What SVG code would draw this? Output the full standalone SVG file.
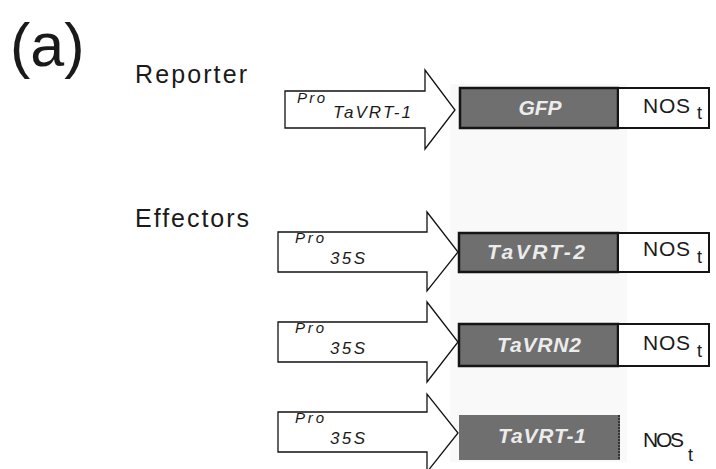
<svg xmlns="http://www.w3.org/2000/svg" width="716" height="469" viewBox="0 0 716 469">
<style>
  text { font-family: "Liberation Sans", Arial, sans-serif; fill: #1a1a1a; }
  .arrow { fill: #ffffff; stroke: #111111; stroke-width: 1.3; stroke-linejoin: miter; }
  .gene { fill: #6f6f6f; stroke: #151515; stroke-width: 2.5; }
  .gene-nb { fill: #6f6f6f; }
  .term { fill: #ffffff; stroke: #151515; stroke-width: 2; }
  .pro { font-size: 15px; font-style: italic; }
  .sub { font-size: 17px; font-style: italic; }
  .glabel { font-size: 21px; font-weight: bold; font-style: italic; fill: #ececec; text-anchor: middle; }
  .nos { font-size: 21px; }
  .t { font-size: 18px; }
  .head { font-size: 25px; }
</style>
<rect x="450" y="84" width="177" height="378" fill="#f9f9f9"/>
<text x="10" y="66" style="font-size:61px">(a)</text>
<text class="head" x="135" y="83" textLength="112" lengthAdjust="spacing">Reporter</text>
<text class="head" x="135" y="227" textLength="114" lengthAdjust="spacing">Effectors</text>

<g id="reporter">
  <polygon class="arrow" points="285,91 425,91 425,70 455,110 425,149 425,128 285,128"/>
  <text class="pro" x="297" y="103" textLength="28" lengthAdjust="spacing">Pro</text>
  <text class="sub" x="333" y="118" textLength="78" lengthAdjust="spacing">TaVRT-1</text>
  <rect class="gene" x="460" y="88" width="158" height="40"/>
  <text class="glabel" x="540" y="115">GFP</text>
  <rect class="term" x="618" y="88" width="91" height="40"/>
  <text class="nos" x="643" y="113" textLength="47" lengthAdjust="spacing">NOS</text>
  <text class="t" x="697" y="119">t</text>
</g>

<g id="effector1">
  <polygon class="arrow" points="278,232 427,232 427,212 458,252 427,291 427,272 278,272"/>
  <text class="pro" x="295" y="243" textLength="29" lengthAdjust="spacing">Pro</text>
  <text class="sub" x="330" y="264" textLength="35" lengthAdjust="spacing">35S</text>
  <rect class="gene" x="459" y="233" width="159" height="39"/>
  <text class="glabel" x="536" y="259" textLength="98" lengthAdjust="spacing">TaVRT-2</text>
  <rect class="term" x="618" y="233" width="91" height="39"/>
  <text class="nos" x="643" y="256" textLength="47" lengthAdjust="spacing">NOS</text>
  <text class="t" x="697" y="263">t</text>
</g>

<g id="effector2">
  <polygon class="arrow" points="278,322 427,322 427,302 458,342 427,382 427,362 278,362"/>
  <text class="pro" x="295" y="333" textLength="29" lengthAdjust="spacing">Pro</text>
  <text class="sub" x="330" y="354" textLength="35" lengthAdjust="spacing">35S</text>
  <rect class="gene" x="459" y="324" width="159" height="42"/>
  <text class="glabel" x="539" y="352" textLength="84" lengthAdjust="spacing">TaVRN2</text>
  <rect class="term" x="618" y="324" width="91" height="42"/>
  <text class="nos" x="643" y="350" textLength="47" lengthAdjust="spacing">NOS</text>
  <text class="t" x="697" y="357">t</text>
</g>

<g id="effector3">
  <polygon class="arrow" points="278,412 427,412 427,394 458,433 427,472 427,452 278,452"/>
  <text class="pro" x="295" y="423" textLength="29" lengthAdjust="spacing">Pro</text>
  <text class="sub" x="330" y="444" textLength="35" lengthAdjust="spacing">35S</text>
  <rect class="gene-nb" x="459" y="415" width="161" height="45"/>
  <line x1="619" y1="415" x2="619" y2="460" stroke="#222" stroke-width="1.5" stroke-dasharray="2,1"/>
  <text class="glabel" x="542" y="443" textLength="88" lengthAdjust="spacing">TaVRT-1</text>
  <text class="nos" x="643" y="447" textLength="41" lengthAdjust="spacing">NOS</text>
  <text class="t" x="688" y="461">t</text>
</g>
</svg>
